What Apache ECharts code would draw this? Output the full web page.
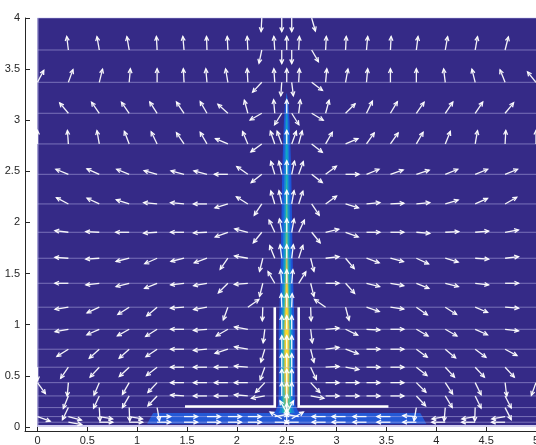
<!DOCTYPE html>
<html><head><meta charset="utf-8">
<script src="https://cdn.jsdelivr.net/npm/echarts@6/dist/echarts.min.js"></script>
<style>html,body{margin:0;padding:0;background:#fff}#c{width:536px;height:445px}</style>
</head><body><div id="c"></div>
<script>
// ---- axes (axis limits are slightly padded, data domain is 0..5 x 0..4) ----
const xLimits = [-0.125, 5];
const yLimits = [-0.04, 4];
const xRange = [0, 5];
const yRange = [0, 4];
const xTicks = [0, 0.5, 1, 1.5, 2, 2.5, 3, 3.5, 4, 4.5, 5];
const yTicks = [0, 0.5, 1, 1.5, 2, 2.5, 3, 3.5, 4];

// ---- quiver grid (columns / rows of the mesh) ----
const colX = [0, 0.31, 0.62, 0.92, 1.2, 1.47, 1.7, 1.91, 2.11, 2.38, 2.5, 2.62, 2.89, 3.09, 3.3, 3.54, 3.8, 4.09, 4.39, 4.69, 5];
const rowY = [3.687, 3.371, 3.068, 2.768, 2.471, 2.181, 1.904, 1.65, 1.405, 1.171, 0.955, 0.76, 0.584, 0.433, 0.303, 0.189, 0.101, 0.046];
// arrow directions (degrees, 0 = +x, 90 = +y), one array per row, null = no arrow
const dir01 = [null, 97, 100, 100, 93, 95, 92, 93, 93, 94, 90, 87, 87, 87, 85, 87, 83, 80, 80, 76, null];
const dir02 = [62, 70, 76, 85, 90, 93, 95, 100, 93, 94, 90, 87, 85, 80, 85, 90, 90, 97, 104, 112, 129];
const dir03 = [null, 130, 125, 125, 123, 124, 120, 138, 105, 95, 90, 83, 75, 45, 64, 59, 55, 56, 56, 51, null];
const dir04 = [90, 94, 100, 111, 116, 124, 120, 157, 113, 109, 90, 75, 60, 23, 55, 55, 60, 68, 80, 87, 90];
const dir05 = [null, 158, 156, 158, 164, 165, 165, 180, 145, 107, 90, 70, 37, 0, 22, 19, 18, 22, 22, 22, null];
const dir06 = [null, 152, 155, 162, 174, 174, 180, 197, 148, 107, 90, 72, 36, 343, 6, 3, 6, 17, 24, 30, null];
const dir07 = [null, 173, 177, 180, 184, 180, 183, 200, 165, 115, 90, 65, 13, 340, 0, 0, 355, 3, 5, 10, null];
const dir08 = [null, 176, 184, 194, 204, 194, 200, 235, 170, 112, 90, 72, 7, 310, 340, 345, 335, 343, 356, 7, null];
const dir09 = [null, 180, 187, 194, 202, 187, 190, 225, 185, 120, 90, 58, 0, 312, 346, 350, 338, 346, 353, 0, null];
const dir10 = [null, 189, 205, 213, 220, 184, 190, 250, 35, null, 90, null, 145, 285, 341, 352, 325, 327, 337, 356, null];
const dir11 = [null, 190, 204, 209, 212, 180, 185, 210, 170, null, 90, null, 5, 334, 357, 0, 330, 330, 336, 353, null];
const dir12 = [null, 212, 222, 222, 214, 180, 185, 198, 170, null, 90, null, 8, 340, 0, 0, 324, 320, 323, 332, null];
const dir13 = [270, 235, 227, 223, 218, 180, 180, 180, 175, null, 90, null, 3, 350, 0, 0, 322, 313, 313, 313, null];
const dir14 = [306, 265, 247, 240, 227, 180, 180, 180, 180, null, 90, null, 0, 0, 0, 0, 315, 303, 296, 277, 250];
const dir15 = [null, 248, 245, 240, 227, 176, 180, 180, 175, null, 90, null, 0, 0, 0, 0, 313, 301, 296, 297, null];
const dir16 = [null, 244, 273, 272, 280, null, null, null, null, null, 90, null, null, null, null, null, 260, 265, 268, 297, null];
const dir17 = [340, 345, 350, 350, 0, 0, 0, 0, 0, 10, 90, 170, 180, 180, 180, 180, 176, 190, 190, 190, null];
const dir18 = [null, 350, 0, 0, 0, 0, 0, 0, 0, 0, 90, 180, 180, 180, 180, 180, 180, 180, 180, 180, null];
const rowDirs = [dir01, dir02, dir03, dir04, dir05, dir06, dir07, dir08, dir09, dir10, dir11, dir12, dir13, dir14, dir15, dir16, dir17, dir18];

// extra mesh nodes around the jet: [x, y, direction]
const jetArrowsUpper = [
  [2.25, 4, 267], [2.45, 4, 270], [2.55, 4, 270], [2.75, 4, 286],
  [2.25, 3.687, 258], [2.45, 3.687, 270], [2.55, 3.687, 270], [2.75, 3.687, 300],
  [2.25, 3.371, 227], [2.45, 3.371, 266], [2.55, 3.371, 277], [2.75, 3.371, 323],
  [2.25, 3.068, 210], [2.45, 3.068, 238], [2.55, 3.068, 302], [2.75, 3.068, 329],
  [2.25, 2.768, 216], [2.45, 2.768, 110], [2.55, 2.768, 70], [2.75, 2.768, 322],
  [2.25, 2.471, 218], [2.45, 2.471, 102], [2.55, 2.471, 78], [2.75, 2.471, 322],
  [2.25, 2.181, 236], [2.45, 2.181, 102], [2.55, 2.181, 80], [2.75, 2.181, 304]
];
const jetArrowsLower = [
  [2.25, 1.904, 231], [2.45, 1.904, 100], [2.55, 1.904, 80], [2.75, 1.904, 309],
  [2.26, 1.65, 256], [2.45, 1.65, 97], [2.55, 1.65, 83], [2.74, 1.65, 284],
  [2.26, 1.405, 256], [2.45, 1.405, 95], [2.55, 1.405, 85], [2.74, 1.405, 284],
  [2.26, 1.171, 268], [2.45, 1.171, 92], [2.55, 1.171, 88], [2.74, 1.171, 272],
  [2.28, 0.955, 263], [2.45, 0.955, 90], [2.55, 0.955, 90], [2.74, 0.955, 277],
  [2.28, 0.76, 253], [2.45, 0.76, 90], [2.55, 0.76, 90], [2.74, 0.76, 284],
  [2.28, 0.584, 250], [2.45, 0.584, 90], [2.55, 0.584, 90], [2.74, 0.584, 295],
  [2.28, 0.433, 227], [2.45, 0.433, 90], [2.55, 0.433, 90], [2.74, 0.433, 313],
  [2.28, 0.303, 190], [2.45, 0.303, 90], [2.55, 0.303, 90], [2.74, 0.303, 350],
  [2.5, 0.14, 60], [2.5, 0.14, 120], [2.45, 0.08, 150], [2.55, 0.08, 30]
];

// ---- scalar field: jet contour bands (half widths about x = 2.5) ----
const jetCenter = 2.5;
const jetY   = [0.10, 0.16, 0.22, 0.35, 0.5, 0.65, 0.8, 0.95, 1.1, 1.25, 1.4, 1.6, 1.9, 2.2, 2.5, 2.8, 3.0, 3.15, 3.27];
const band1  = [0.16, 0.11, 0.085, 0.08, 0.08, 0.08, 0.08, 0.08, 0.075, 0.07, 0.065, 0.06, 0.055, 0.05, 0.045, 0.035, 0.028, 0.018, 0];
const band2  = [0.10, 0.07, 0.06, 0.06, 0.06, 0.06, 0.06, 0.06, 0.055, 0.05, 0.045, 0.04, 0.035, 0.03, 0.025, 0.02, 0.014, 0.006, 0];
const band3  = [0.05, 0.045, 0.045, 0.045, 0.045, 0.045, 0.045, 0.045, 0.04, 0.035, 0.03, 0.025, 0.02, 0.015, 0.012, 0.008, 0.004, 0, 0];
const band4  = [0, 0.03, 0.035, 0.035, 0.035, 0.035, 0.035, 0.035, 0.03, 0.025, 0.02, 0.015, 0.01, 0.006, 0, 0, 0, 0, 0];
const band5  = [0, 0, 0.01, 0.02, 0.025, 0.025, 0.025, 0.025, 0.02, 0.015, 0.012, 0.006, 0, 0, 0, 0, 0, 0, 0];
const band6  = [0, 0, 0, 0.008, 0.012, 0.015, 0.015, 0.015, 0.01, 0.006, 0.003, 0, 0, 0, 0, 0, 0, 0, 0];
const bandColors = ['#1c55d9', '#1a80d6', '#12a8c4', '#55bd95', '#d2bb58', '#f6dc26'];
const jetBands = [band1, band2, band3, band4, band5, band6];

// floor layer (inflow along the bottom)
const floorX = [1.10, 1.16, 3.84, 3.90];
const floorY = [0.03, 0.135, 0.135, 0.03];

// nozzle walls
const wallLeftX = [1.48, 2.38, 2.38];
const wallLeftY = [0.2, 0.2, 1.17];
const wallRightX = [3.52, 2.62, 2.62];
const wallRightY = [0.2, 0.2, 1.17];

// ---------------------------------------------------------------
const arrowData = [];
rowDirs.forEach((arr, r) => arr.forEach((a, c) => { if (a !== null) arrowData.push([colX[c], rowY[r], a]); }));
jetArrowsUpper.forEach(d => arrowData.push(d));
jetArrowsLower.forEach(d => arrowData.push(d));

const ARROW_LEN = 13.5, HEAD = 4.6, HEAD_ANG = 0.45;
function renderArrow(params, api) {
  const x = api.value(0), y = api.value(1), a = api.value(2) * Math.PI / 180;
  const p = api.coord([x, y]);
  const hx = p[0] + ARROW_LEN * Math.cos(a), hy = p[1] - ARROW_LEN * Math.sin(a);
  const b1 = [hx - HEAD * Math.cos(a - HEAD_ANG), hy + HEAD * Math.sin(a - HEAD_ANG)];
  const b2 = [hx - HEAD * Math.cos(a + HEAD_ANG), hy + HEAD * Math.sin(a + HEAD_ANG)];
  const st = { stroke: 'rgba(255,255,255,0.95)', lineWidth: 1.3, fill: null };
  return { type: 'group', children: [
    { type: 'line', shape: { x1: p[0], y1: p[1], x2: hx, y2: hy }, style: st },
    { type: 'polyline', shape: { points: [b1, [hx, hy], b2] }, style: st }
  ]};
}

function renderDomain(params, api) {
  const p0 = api.coord([xRange[0], yRange[1]]), p1 = api.coord([xRange[1], yRange[0]]);
  return { type: 'rect', shape: { x: p0[0], y: p0[1], width: p1[0] - p0[0], height: p1[1] - p0[1] }, style: { fill: '#352a87' } };
}

function renderBand(params, api) {
  const hw = jetBands[params.dataIndex];
  const pts = [];
  for (let i = 0; i < jetY.length; i++) pts.push(api.coord([jetCenter - hw[i], jetY[i]]));
  for (let i = jetY.length - 1; i >= 0; i--) pts.push(api.coord([jetCenter + hw[i], jetY[i]]));
  return { type: 'polygon', shape: { points: pts }, style: { fill: bandColors[params.dataIndex], stroke: null } };
}

function renderFloor(params, api) {
  const pts = floorX.map((x, i) => api.coord([x, floorY[i]]));
  return { type: 'polygon', shape: { points: pts }, style: { fill: '#2459d6' } };
}

const meshLines = rowY.map(y => [y, 'row']).concat([[yRange[1], 'top'], [yRange[0], 'bottom']]);
function renderMesh(params, api) {
  const y = api.value(0);
  const kind = meshLines[params.dataIndex][1];
  const p1 = api.coord([xRange[0], y]), p2 = api.coord([xRange[1], y]);
  const col = kind === 'bottom' ? 'rgba(225,222,248,0.9)' : 'rgba(190,185,235,0.5)';
  return { type: 'line', shape: { x1: p1[0], y1: p1[1] - (kind === 'bottom' ? 1 : 0), x2: p2[0], y2: p2[1] - (kind === 'bottom' ? 1 : 0) }, style: { stroke: col, lineWidth: kind === 'bottom' ? 2 : 1 } };
}
function renderLeftEdge(params, api) {
  const p1 = api.coord([xRange[0], yRange[0]]), p2 = api.coord([xRange[0], yRange[1]]);
  return { type: 'line', shape: { x1: p1[0] + 0.5, y1: p1[1], x2: p2[0] + 0.5, y2: p2[1] }, style: { stroke: 'rgba(200,196,240,0.7)', lineWidth: 1 } };
}

function renderWall(params, api) {
  const xs = params.dataIndex === 0 ? wallLeftX : wallRightX;
  const ys = params.dataIndex === 0 ? wallLeftY : wallRightY;
  const pts = xs.map((x, i) => api.coord([x, ys[i]]));
  return { type: 'polyline', shape: { points: pts }, style: { stroke: '#ffffff', lineWidth: 2.6, fill: null } };
}

const labelFont = "'Liberation Sans Narrow', 'Liberation Sans', Arial, sans-serif";
const axisCol = '#262626';
const chart = echarts.init(document.getElementById('c'), null, { renderer: 'canvas' });
chart.setOption({
  animation: false,
  backgroundColor: '#ffffff',
  grid: { left: 25, right: 0, top: 18, bottom: 14, containLabel: false, outerBoundsMode: 'none', show: false },
  xAxis: {
    type: 'value', min: xLimits[0], max: xLimits[1],
    axisLine: { show: true, onZero: false, lineStyle: { color: axisCol, width: 1 } },
    axisTick: { show: true, inside: true, length: 4, customValues: xTicks, lineStyle: { color: axisCol } },
    axisLabel: { margin: 4, fontSize: 11, color: axisCol, fontFamily: labelFont, customValues: xTicks, showMinLabel: true, showMaxLabel: true },
    splitLine: { show: false }
  },
  yAxis: {
    type: 'value', min: yLimits[0], max: yLimits[1],
    axisLine: { show: true, onZero: false, lineStyle: { color: axisCol, width: 1 } },
    axisTick: { show: true, inside: true, length: 5, customValues: yTicks, lineStyle: { color: axisCol } },
    axisLabel: { margin: 5, fontSize: 11, color: axisCol, fontFamily: labelFont, customValues: yTicks, showMinLabel: true, showMaxLabel: true },
    splitLine: { show: false }
  },
  series: [
    { type: 'custom', coordinateSystem: 'cartesian2d', renderItem: renderDomain, data: [[xRange[0], yRange[0]]], encode: { x: 0, y: 1 }, z: 0, silent: true, clip: false },
    { type: 'custom', coordinateSystem: 'cartesian2d', renderItem: renderBand, data: jetBands.map((b, i) => [jetCenter, jetY[0], i]), encode: { x: 0, y: 1 }, z: 1, silent: true },
    { type: 'custom', coordinateSystem: 'cartesian2d', renderItem: renderFloor, data: [[floorX[0], floorY[0]]], encode: { x: 0, y: 1 }, z: 2, silent: true },
    { type: 'custom', coordinateSystem: 'cartesian2d', renderItem: renderMesh, data: meshLines.map(m => [m[0]]), encode: { y: 0 }, z: 3, silent: true },
    { type: 'custom', coordinateSystem: 'cartesian2d', renderItem: renderLeftEdge, data: [[0, 0]], encode: { x: 0, y: 1 }, z: 3, silent: true },
    { type: 'custom', coordinateSystem: 'cartesian2d', renderItem: renderWall, data: [[wallLeftX[0], wallLeftY[0]], [wallRightX[0], wallRightY[0]]], encode: { x: 0, y: 1 }, z: 4, silent: true },
    { type: 'custom', coordinateSystem: 'cartesian2d', renderItem: renderArrow, data: arrowData, encode: { x: 0, y: 1 }, z: 5, silent: true, clip: false }
  ]
});
</script></body></html>
